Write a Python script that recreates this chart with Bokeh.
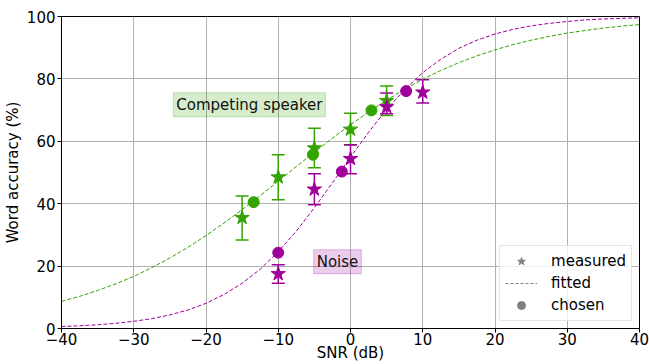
from bokeh.plotting import figure
from bokeh.models import (ColumnDataSource, Whisker, TeeHead, Label, Legend,
                          LegendItem, FixedTicker, Range1d)
from bokeh.embed import file_html
from bokeh.resources import INLINE

GREEN = "#33a300"
MAGENTA = "#a0009a"
GRAY = "#808080"

# ---- data ----
fit_x = [-40, -37.5, -35, -32.5, -30, -27.5, -25, -22.5, -20, -17.5, -15, -12.5,
         -10, -7.5, -5, -2.5, 0, 2.5, 5, 7.5, 10, 12.5, 15, 17.5, 20, 22.5, 25,
         27.5, 30, 32.5, 35, 37.5, 40]
fit_competing = [8.7, 10.3, 12.2, 14.3, 16.7, 19.5, 22.6, 26.0, 29.8, 33.8, 38.1,
                 42.6, 47.2, 51.9, 56.5, 61.0, 65.3, 69.4, 73.2, 76.7, 79.9, 82.7,
                 85.2, 87.4, 89.3, 91.0, 92.4, 93.6, 94.7, 95.5, 96.3, 96.9, 97.4]
fit_noise = [0.63, 0.87, 1.2, 1.66, 2.3, 3.16, 4.35, 5.93, 8.06, 10.9, 14.5, 19.0,
             24.6, 31.2, 38.7, 46.7, 54.9, 62.9, 70.2, 76.6, 82.0, 86.3, 89.8,
             92.4, 94.4, 95.9, 97.0, 97.8, 98.4, 98.9, 99.2, 99.4, 99.6]

meas_x_competing = [-15, -10, -5, 0, 5]
meas_y_competing = [35.5, 48.5, 57.8, 63.8, 73.0]
meas_lo_competing = [28.4, 41.3, 51.5, 58.8, 68.3]
meas_hi_competing = [42.5, 55.7, 64.2, 69.0, 77.7]

meas_x_noise = [-10, -5, 0, 5, 10]
meas_y_noise = [17.5, 44.6, 54.4, 71.0, 75.7]
meas_lo_noise = [14.5, 39.7, 49.6, 68.8, 72.3]
meas_hi_noise = [20.4, 49.6, 58.9, 75.5, 79.7]

chosen_x_competing = [-13.4, -5.2, 2.9]
chosen_y_competing = [40.5, 55.7, 69.9]
chosen_x_noise = [-10, -1.2, 7.7]
chosen_y_noise = [24.3, 50.3, 76.1]

x_ticks = [-40, -30, -20, -10, 0, 10, 20, 30, 40]
x_tick_labels = ["\u221240", "\u221230", "\u221220", "\u221210", "0", "10", "20", "30", "40"]
y_ticks = [0, 20, 40, 60, 80, 100]

FONT = "DejaVu Sans"

p = figure(output_backend="svg", toolbar_location=None,
           frame_width=578, frame_height=312,
           min_border_left=53, min_border_right=10, min_border_top=16,
           min_border_bottom=34,
           x_range=Range1d(-40, 40), y_range=Range1d(0, 100))

p.background_fill_color = "white"
p.outline_line_color = "black"
p.outline_line_width = 1

# axes
for ax in (p.xaxis[0], p.yaxis[0]):
    ax.axis_line_color = "black"
    ax.major_tick_line_color = "black"
    ax.major_tick_out = 4
    ax.major_tick_in = 0
    ax.minor_tick_line_color = None
    ax.major_label_text_font = FONT
    ax.major_label_text_font_size = "15px"
    ax.major_label_text_color = "black"
    ax.axis_label_text_font = FONT
    ax.axis_label_text_font_size = "15px"
    ax.axis_label_text_font_style = "normal"
    ax.axis_label_text_color = "black"

p.xaxis.ticker = FixedTicker(ticks=x_ticks)
p.xaxis.major_label_overrides = {t: l for t, l in zip(x_ticks, x_tick_labels)}
p.yaxis.ticker = FixedTicker(ticks=y_ticks)
p.xaxis.axis_label = "SNR (dB)"
p.yaxis.axis_label = "Word accuracy (%)"
p.xaxis.major_label_standoff = 0
p.xaxis.axis_label_standoff = -4
p.yaxis.major_label_standoff = 2
p.yaxis.axis_label_standoff = 2

p.xgrid.grid_line_color = "#b0b0b0"
p.ygrid.grid_line_color = "#b0b0b0"
p.xgrid.grid_line_width = 1
p.ygrid.grid_line_width = 1

# fitted curves
p.line(fit_x, fit_competing, line_color=GREEN, line_width=1, line_dash="4 2")
p.line(fit_x, fit_noise, line_color=MAGENTA, line_width=1, line_dash="4 2")

# error bars
src_c = ColumnDataSource(dict(x=meas_x_competing, y=meas_y_competing,
                              lo=meas_lo_competing, hi=meas_hi_competing))
src_n = ColumnDataSource(dict(x=meas_x_noise, y=meas_y_noise,
                              lo=meas_lo_noise, hi=meas_hi_noise))
for src, col in ((src_c, GREEN), (src_n, MAGENTA)):
    w = Whisker(source=src, base="x", lower="lo", upper="hi", dimension="height",
                line_color=col, line_width=1.5,
                lower_head=TeeHead(size=13, line_color=col, line_width=1.5),
                upper_head=TeeHead(size=13, line_color=col, line_width=1.5))
    p.add_layout(w)

# measured stars
p.scatter("x", "y", source=src_c, marker="star", size=15, color=GREEN)
p.scatter("x", "y", source=src_n, marker="star", size=15, color=MAGENTA)

# chosen circles
p.scatter(chosen_x_competing, chosen_y_competing, marker="circle", size=11, color=GREEN)
p.scatter(chosen_x_noise, chosen_y_noise, marker="circle", size=11, color=MAGENTA)

# labels with boxes
lab_c = Label(x=-14.0, y=71.7, text="Competing speaker", text_align="center",
              text_baseline="middle", text_font=FONT, text_font_size="15px",
              text_color="#111111",
              background_fill_color=GREEN, background_fill_alpha=0.2,
              border_line_color=GREEN, border_line_alpha=0.25, padding=3)
lab_n = Label(x=-1.8, y=21.4, text="Noise", text_align="center",
              text_baseline="middle", text_font=FONT, text_font_size="15px",
              text_color="#111111",
              background_fill_color=MAGENTA, background_fill_alpha=0.2,
              border_line_color=MAGENTA, border_line_alpha=0.25, padding=3)
p.add_layout(lab_c)
p.add_layout(lab_n)

# legend with gray proxies (a single NaN point so nothing is drawn in the plot)
nan = float("nan")
proxy = ColumnDataSource(dict(x=[nan], y=[nan]))
r_star = p.scatter("x", "y", source=proxy, marker="star", size=14, color=GRAY)
r_line = p.line("x", "y", source=proxy, line_color=GRAY, line_width=1, line_dash="3 2")
r_circ = p.scatter("x", "y", source=proxy, marker="circle", size=10, color=GRAY)
legend = Legend(items=[LegendItem(label="measured", renderers=[r_star]),
                       LegendItem(label="fitted", renderers=[r_line]),
                       LegendItem(label="chosen", renderers=[r_circ])],
                location="bottom_right", margin=7, padding=5, spacing=2,
                glyph_width=32, glyph_height=20, label_height=20,
                label_standoff=14,
                label_text_font=FONT, label_text_font_size="15px",
                label_text_color="black",
                border_line_color="#cccccc", border_line_width=1,
                background_fill_color="white", background_fill_alpha=0.8)
p.add_layout(legend)

open("out.html", "w").write(file_html(p, INLINE))
